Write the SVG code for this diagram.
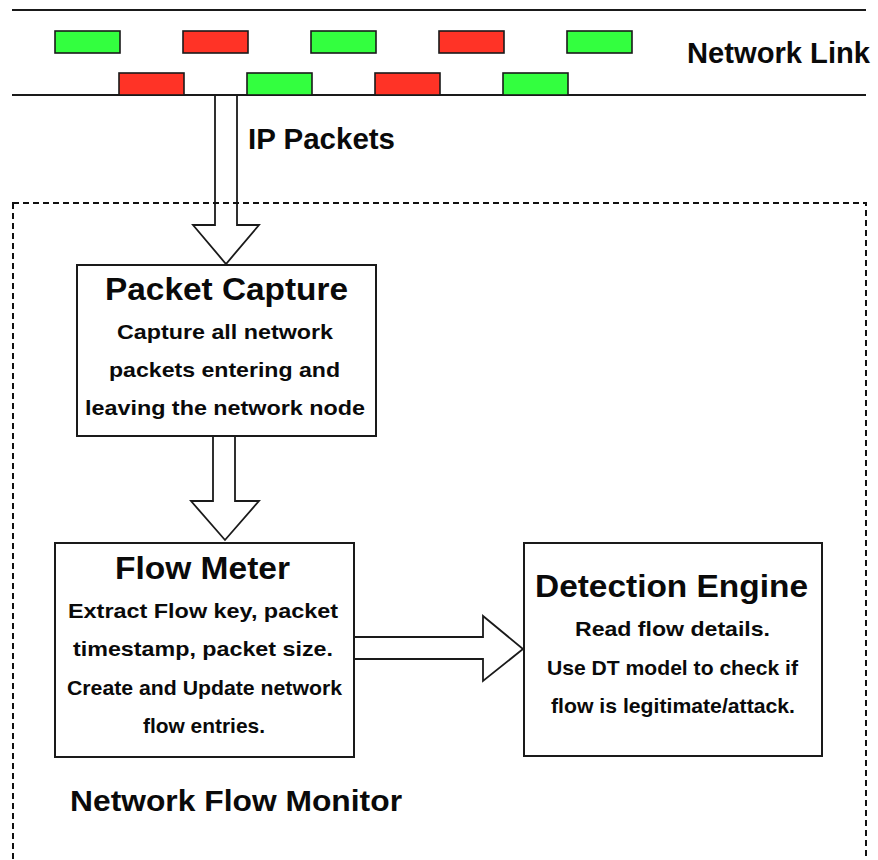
<svg xmlns="http://www.w3.org/2000/svg" width="878" height="860" viewBox="0 0 878 860">
  <style>
    .wire { stroke: #1a1a1a; stroke-width: 2; fill: none; }
    .pkt { stroke: #1a1a1a; stroke-width: 1.6; }
    .green { fill: #33ff3f; }
    .red { fill: #ff3326; }
    .box { fill: #ffffff; stroke: #1a1a1a; stroke-width: 2; }
    .frame { fill: none; stroke: #111111; stroke-width: 2; stroke-dasharray: 6 4; }
    .flow { fill: #ffffff; stroke: #1a1a1a; stroke-width: 1.8; stroke-linejoin: miter; }
    text { font-family: "Liberation Sans", Arial, Helvetica, sans-serif; font-weight: bold; fill: #0a0a0a; }
    .label { font-size: 29px; }
    .title { font-size: 32px; text-anchor: middle; }
    .body { font-size: 21px; text-anchor: middle; }
  </style>

  <!-- network link with packets in transit -->
  <g id="network-link">
    <line class="wire" x1="12" y1="10" x2="866" y2="10"/>
    <line class="wire" x1="12" y1="95" x2="866" y2="95"/>
    <rect class="pkt green" x="55" y="31" width="65" height="22"/>
    <rect class="pkt red" x="183" y="31" width="65" height="22"/>
    <rect class="pkt green" x="311" y="31" width="65" height="22"/>
    <rect class="pkt red" x="439" y="31" width="65" height="22"/>
    <rect class="pkt green" x="567" y="31" width="65" height="22"/>
    <rect class="pkt red" x="119" y="73" width="65" height="22"/>
    <rect class="pkt green" x="247" y="73" width="65" height="22"/>
    <rect class="pkt red" x="375" y="73" width="65" height="22"/>
    <rect class="pkt green" x="503" y="73" width="65" height="22"/>
    <text class="label" x="687" y="63" textLength="183" lengthAdjust="spacingAndGlyphs">Network Link</text>
  </g>

  <!-- block arrows between stages -->
  <g id="connectors">
    <path class="flow" d="M215,95 L237,95 L237,225 L259,225 L226,264 L193,225 L215,225 Z"/>
    <text class="label" x="248" y="149" textLength="147" lengthAdjust="spacingAndGlyphs">IP Packets</text>
    <path class="flow" d="M213,436 L235,436 L235,501 L259,501 L225,540 L191,501 L213,501 Z"/>
    <path class="flow" d="M354,637 L483,637 L483,616 L523,649 L483,681 L483,659 L354,659 Z"/>
  </g>

  <!-- monitor boundary -->
  <g id="network-flow-monitor">
    <rect class="frame" x="13" y="203" width="853" height="680"/>
    <text class="label" x="70" y="811" textLength="332" lengthAdjust="spacingAndGlyphs">Network Flow Monitor</text>
  </g>

  <g id="packet-capture">
    <rect class="box" x="77" y="265" width="299" height="171"/>
    <text class="title" x="226.5" y="300" textLength="243" lengthAdjust="spacingAndGlyphs">Packet Capture</text>
    <text class="body" x="225" y="339" textLength="216" lengthAdjust="spacingAndGlyphs">Capture all network</text>
    <text class="body" x="224.5" y="377" textLength="231" lengthAdjust="spacingAndGlyphs">packets entering and</text>
    <text class="body" x="225" y="415" textLength="280" lengthAdjust="spacingAndGlyphs">leaving the network node</text>
  </g>

  <g id="flow-meter">
    <rect class="box" x="55" y="543" width="299" height="214"/>
    <text class="title" x="202.5" y="579" textLength="175" lengthAdjust="spacingAndGlyphs">Flow Meter</text>
    <text class="body" x="203" y="618" textLength="270" lengthAdjust="spacingAndGlyphs">Extract Flow key, packet</text>
    <text class="body" x="203" y="656" textLength="260" lengthAdjust="spacingAndGlyphs">timestamp, packet size.</text>
    <text class="body" x="204.5" y="695" textLength="275" lengthAdjust="spacingAndGlyphs">Create and Update network</text>
    <text class="body" x="204" y="733" textLength="122" lengthAdjust="spacingAndGlyphs">flow entries.</text>
  </g>

  <g id="detection-engine">
    <rect class="box" x="524" y="543" width="298" height="213"/>
    <text class="title" x="671.5" y="597" textLength="273" lengthAdjust="spacingAndGlyphs">Detection Engine</text>
    <text class="body" x="672.5" y="636" textLength="195" lengthAdjust="spacingAndGlyphs">Read flow details.</text>
    <text class="body" x="672.5" y="675" textLength="251" lengthAdjust="spacingAndGlyphs">Use DT model to check if</text>
    <text class="body" x="673" y="713" textLength="244" lengthAdjust="spacingAndGlyphs">flow is legitimate/attack.</text>
  </g>
</svg>
